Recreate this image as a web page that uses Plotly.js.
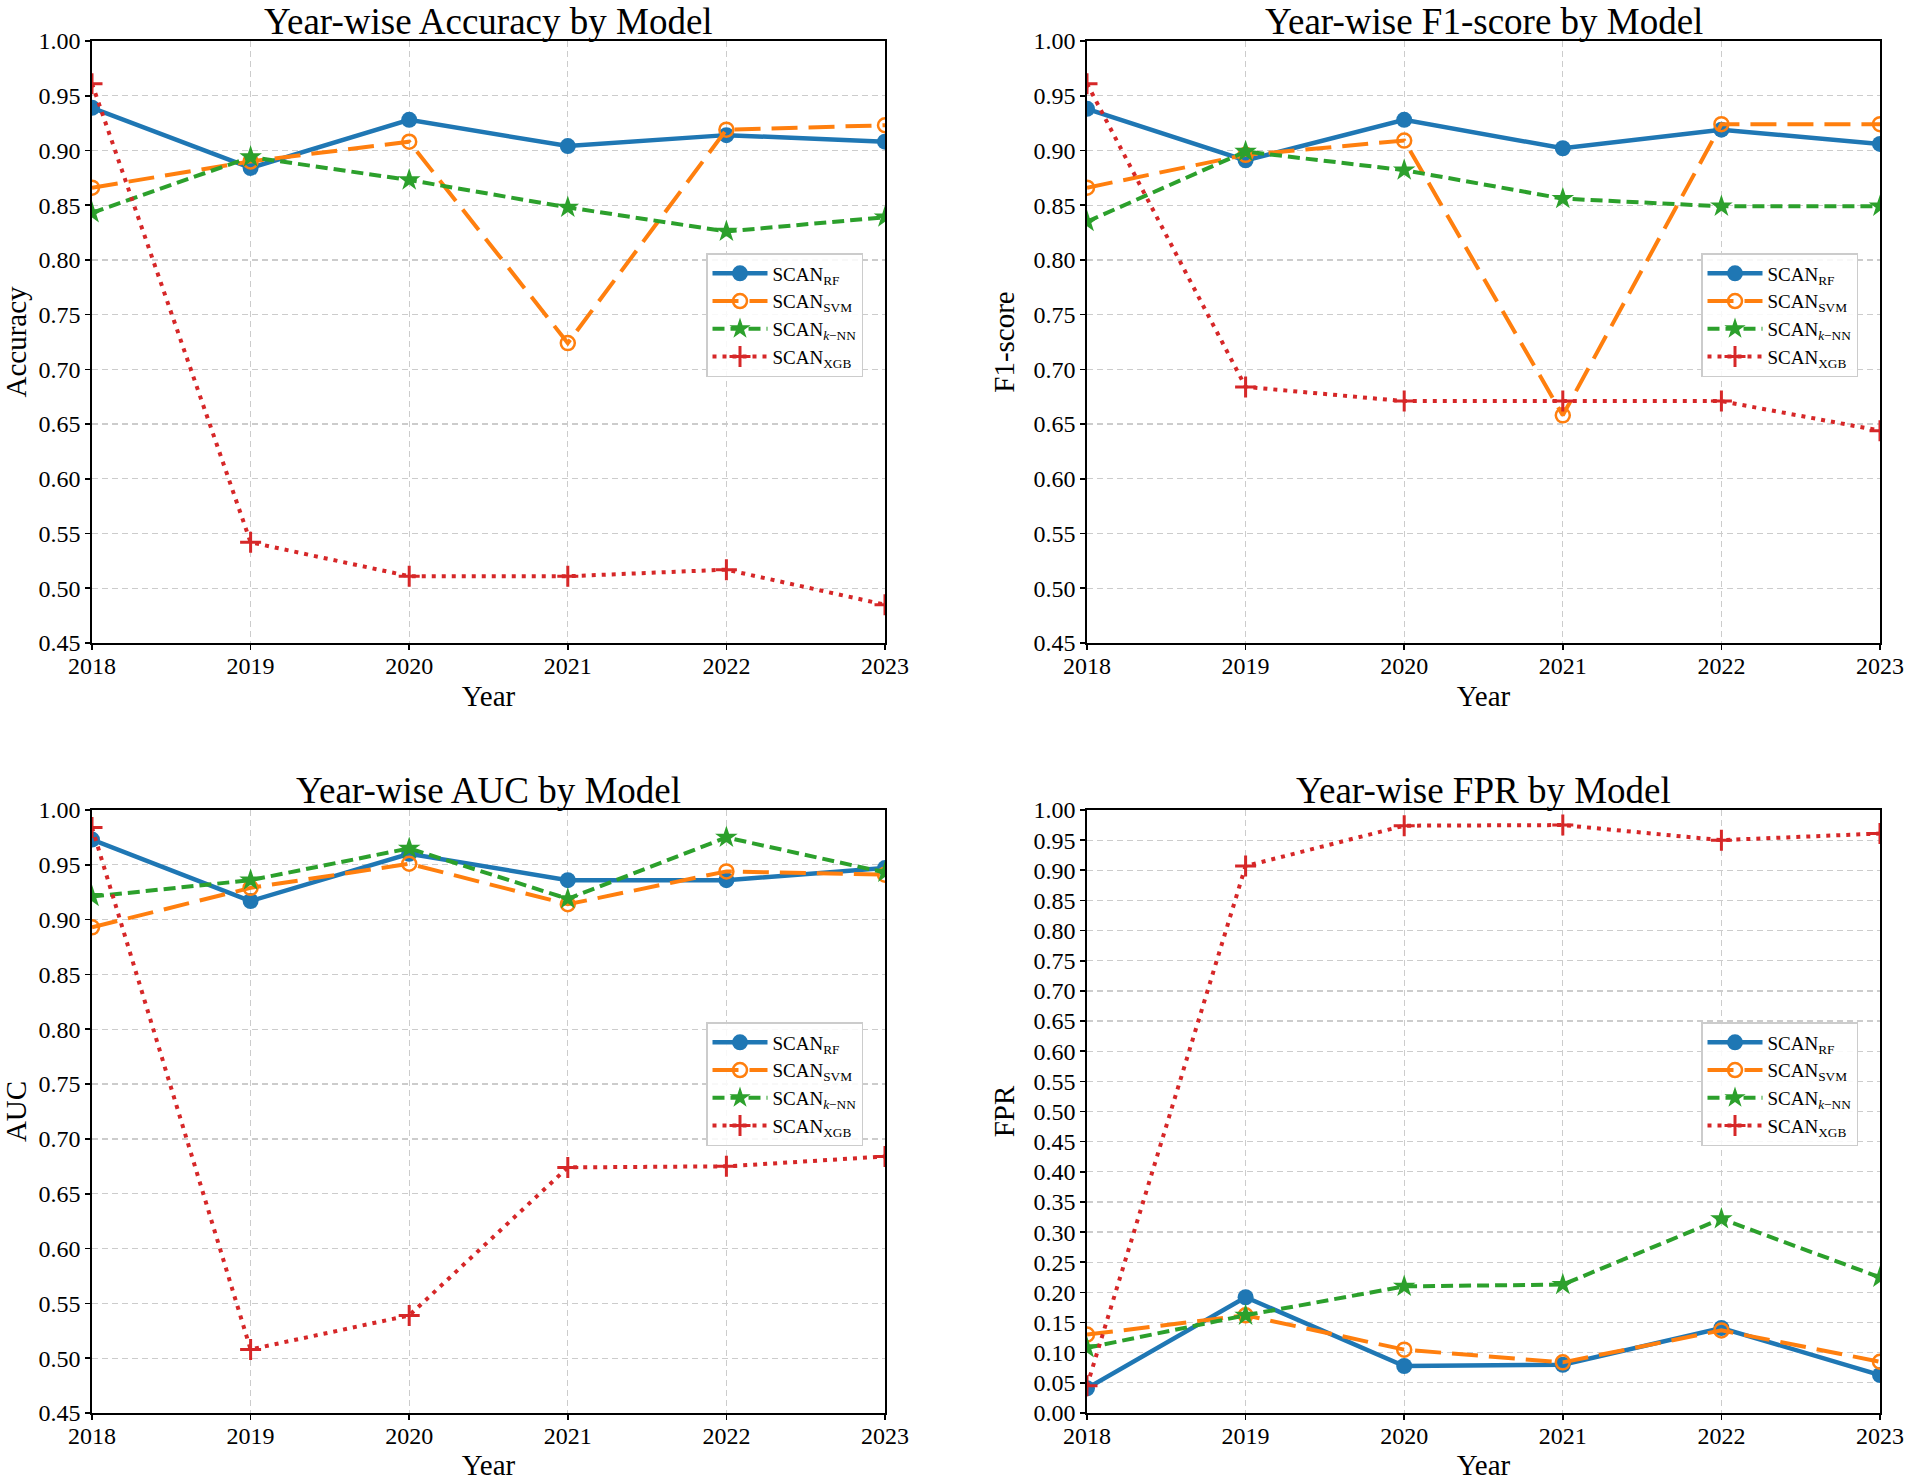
<!DOCTYPE html>
<html>
<head>
<meta charset="utf-8">
<script src="https://cdn.plot.ly/plotly-3.0.1.min.js"></script>
<style>html,body{margin:0;padding:0;background:#fff;}#chart{width:1905px;height:1481px;}</style>
</head>
<body>
<div id="chart"></div>
<script>
// ---- data ----
const years = [2018, 2019, 2020, 2021, 2022, 2023];
const modelNames = ["SCAN<sub>RF</sub>", "SCAN<sub>SVM</sub>", "SCAN<sub><i>k</i>\u2212NN</sub>", "SCAN<sub>XGB</sub>"];

const accRF  = [0.939, 0.884, 0.928, 0.904, 0.914, 0.908];
const accSVM = [0.866, 0.890, 0.908, 0.724, 0.919, 0.923];
const accKNN = [0.843, 0.894, 0.873, 0.848, 0.826, 0.839];
const accXGB = [0.961, 0.542, 0.511, 0.511, 0.517, 0.485];

const f1RF  = [0.938, 0.891, 0.928, 0.902, 0.919, 0.906];
const f1SVM = [0.866, 0.896, 0.909, 0.658, 0.924, 0.924];
const f1KNN = [0.835, 0.899, 0.882, 0.856, 0.849, 0.849];
const f1XGB = [0.961, 0.684, 0.671, 0.671, 0.671, 0.644];

const aucRF  = [0.973, 0.917, 0.960, 0.936, 0.936, 0.947];
const aucSVM = [0.893, 0.929, 0.951, 0.914, 0.944, 0.941];
const aucKNN = [0.921, 0.936, 0.965, 0.919, 0.975, 0.943];
const aucXGB = [0.984, 0.508, 0.539, 0.674, 0.675, 0.684];

const fprRF  = [0.041, 0.192, 0.078, 0.080, 0.141, 0.063];
const fprSVM = [0.130, 0.162, 0.105, 0.084, 0.137, 0.085];
const fprKNN = [0.108, 0.162, 0.210, 0.213, 0.322, 0.225];
const fprXGB = [0.045, 0.907, 0.974, 0.975, 0.950, 0.961];

const panelTitles = ["Year-wise Accuracy by Model", "Year-wise F1-score by Model", "Year-wise AUC by Model", "Year-wise FPR by Model"];
const panelYLabels = ["Accuracy", "F1-score", "AUC", "FPR"];
const panelSeries = [
  [accRF, accSVM, accKNN, accXGB],
  [f1RF, f1SVM, f1KNN, f1XGB],
  [aucRF, aucSVM, aucKNN, aucXGB],
  [fprRF, fprSVM, fprKNN, fprXGB]
];

// ---- styling ----
const W = 1905, H = 1481;
const FONT = "Liberation Serif";
const colors = ["#1f77b4", "#ff7f0e", "#2ca02c", "#d62728"];
const dashes = ["solid", "26px,11px", "12px,6px", "4px,6px"];
const symbols = ["circle", "circle-open", "star", "cross-thin-open"];
const msizes = [16, 14, 17, 15];
const lwidths = [4.5, 4, 4, 4];

// pixel boxes of each plot area [x0, x1, y0(top), y1(bottom)]
const boxes = [
  [92, 885, 41, 643],
  [1087, 1880, 41, 643],
  [92, 885, 810, 1413],
  [1087, 1880, 810, 1413]
];
const titleTops = [0, 0, 769, 769];
const yRanges = [[0.45, 1.0], [0.45, 1.0], [0.45, 1.0], [0.0, 1.0]];

const traces = [];
const layout = {
  width: W, height: H,
  margin: {l: 0, r: 0, t: 0, b: 0},
  paper_bgcolor: "#ffffff",
  plot_bgcolor: "#ffffff",
  font: {family: FONT, color: "#000000", size: 24},
  showlegend: true,
  annotations: []
};

for (let p = 0; p < 4; p++) {
  const sfx = p === 0 ? "" : String(p + 1);
  const b = boxes[p];
  const xa = "xaxis" + sfx, ya = "yaxis" + sfx, lg = "legend" + sfx;
  const tf = {family: FONT, size: 24, color: "#000000"};
  layout[xa] = {
    domain: [b[0] / W, b[1] / W],
    anchor: "y" + sfx,
    range: [years[0], years[years.length - 1]],
    tickmode: "array", tickvals: years, ticktext: years.map(String),
    showline: true, mirror: true, linecolor: "#000000", linewidth: 1.8,
    ticks: "outside", ticklen: 5, tickwidth: 1.6, tickcolor: "#000000",
    ticklabelstandoff: -5,
    showgrid: true, gridcolor: "#cccccc", gridwidth: 1.3, griddash: "6px,4px",
    zeroline: false,
    tickfont: tf,
    title: {text: "Year", font: {family: FONT, size: 29, color: "#000000"}, standoff: 8}
  };
  layout[ya] = {
    domain: [1 - b[3] / H, 1 - b[2] / H],
    anchor: "x" + sfx,
    range: yRanges[p],
    dtick: 0.05, tick0: 0, tickformat: ".2f",
    showline: true, mirror: true, linecolor: "#000000", linewidth: 1.8,
    ticks: "outside", ticklen: 5, tickwidth: 1.6, tickcolor: "#000000",
    showgrid: true, gridcolor: "#cccccc", gridwidth: 1.3, griddash: "6px,4px",
    zeroline: false,
    tickfont: tf,
    title: {text: panelYLabels[p], font: {family: FONT, size: 29, color: "#000000"}, standoff: 10}
  };
  layout[lg] = {
    x: (b[1] - 22) / W, xanchor: "right",
    y: 1 - (b[2] + 212) / H, yanchor: "top",
    xref: "paper", yref: "paper",
    bgcolor: "rgba(255,255,255,0.85)",
    bordercolor: "#cccccc", borderwidth: 1.5,
    font: {family: FONT, size: 19, color: "#000000"},
    itemwidth: 55,
    tracegroupgap: 0
  };
  layout.annotations.push({
    text: panelTitles[p],
    xref: "paper", yref: "paper",
    x: ((b[0] + b[1]) / 2) / W, y: 1 - titleTops[p] / H,
    xanchor: "center", yanchor: "top",
    borderpad: 0,
    showarrow: false,
    font: {family: FONT, size: 37, color: "#000000"}
  });
  for (let s = 0; s < 4; s++) {
    traces.push({
      type: "scatter", mode: "lines+markers",
      x: years, y: panelSeries[p][s],
      xaxis: "x" + sfx, yaxis: "y" + sfx,
      name: modelNames[s],
      legend: lg,
      line: {color: colors[s], width: lwidths[s], dash: dashes[s]},
      marker: {
        symbol: symbols[s], size: msizes[s], color: colors[s],
        line: {color: colors[s], width: s === 1 ? 2.5 : (s === 3 ? 3 : 0)}
      },
      cliponaxis: true
    });
  }
}

Plotly.newPlot("chart", traces, layout, {displayModeBar: false, staticPlot: true});
</script>
</body>
</html>
